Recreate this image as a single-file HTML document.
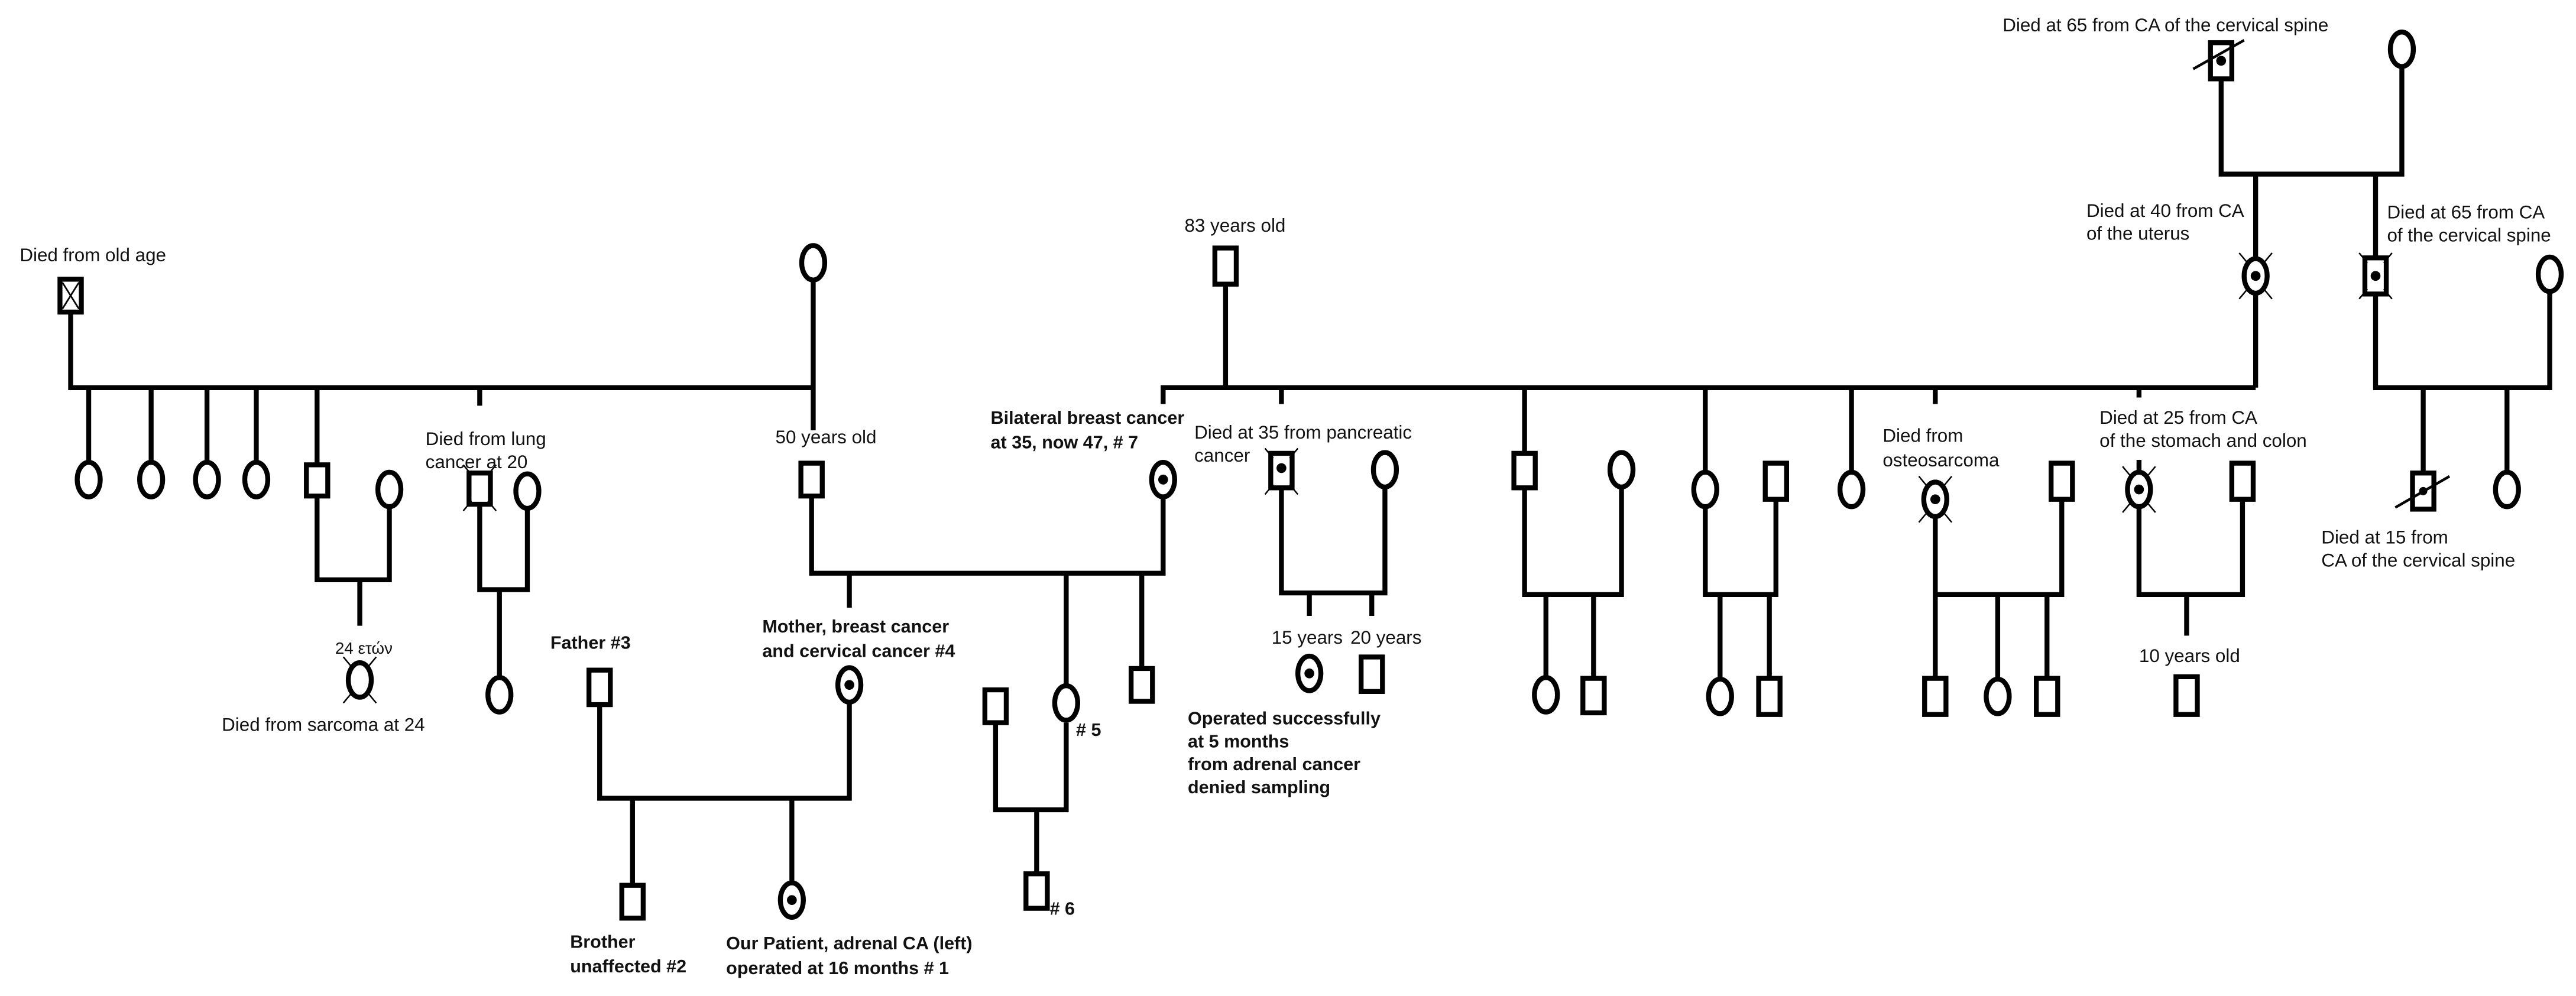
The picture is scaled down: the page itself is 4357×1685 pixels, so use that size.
<!DOCTYPE html>
<html><head><meta charset="utf-8"><style>
html,body{margin:0;padding:0;background:#fff;}
svg{display:block;}
text{font-family:"Liberation Sans",Arial,sans-serif;font-size:11.3px;fill:#111;}
.b{font-weight:bold;font-size:11px;}
</style></head><body>
<svg width="4357" height="1685" viewBox="0 0 1568 606.4" xmlns="http://www.w3.org/2000/svg">
<defs>
<g id="rays" stroke="#000" stroke-width="0.9" fill="none">
<line x1="-10" y1="-14" x2="-5" y2="-8"/><line x1="10" y1="-14" x2="5" y2="-8"/>
<line x1="-10" y1="14" x2="-5" y2="8"/><line x1="10" y1="14" x2="5" y2="8"/>
</g>
</defs>
<g stroke="#000" stroke-width="3" fill="none">
<!-- left family -->
<path d="M43 190 V236 H495 M495 171 V262"/>
<path d="M54 236 V281 M92 236 V281 M126 236 V281 M156 236 V281 M193 236 V283 M292 236 V247"/>
<path d="M193 302 V353 H237 V308 M219 353 V381"/>
<path d="M292 306 V359 H321 V310 M304 359 V412"/>
<!-- middle -->
<path d="M494 302 V349 H708 V303 M517 349 V370 M649 349 V417 M695 349 V407"/>
<path d="M365 429 V486 H517 V428 M385 486 V539 M482 486 V537"/>
<path d="M606 440 V493 H649 V440 M631 493 V532"/>
<!-- right main -->
<path d="M746 173 V236 M708 246 V236 H1373 M780 236 V246 M928 236 V276 M1038 236 V287 M1127 236 V287 M1178 236 V246 M1302 236 V242"/>
<path d="M780 297 V361 H843 V297 M797 361 V375 M835 361 V375"/>
<path d="M928 297 V362 H987 V297 M941 362 V413 M970 362 V413"/>
<path d="M1038 309 V362 H1081 V304 M1047 362 V413 M1077 362 V413"/>
<path d="M1178 315 V362 H1255 V304 M1178 362 V413 M1216 362 V413 M1246 362 V413"/>
<path d="M1302 309 V362 H1365 V304 M1331 362 V387 M1302 280 V287"/>
<!-- top right -->
<path d="M1352 48 V106 H1462 V41 M1373 106 V157.5 M1373 178.5 V236 M1446 106 V157 M1446 179 V236 H1552 V178 M1475 236 V288 M1526 236 V287"/>
</g>
<!-- symbols -->
<g stroke="#000" stroke-width="3" fill="#fff">
<!-- left -->
<rect x="36.5" y="170" width="13" height="20"/>
<ellipse cx="495" cy="160" rx="7" ry="10.5"/>
<ellipse cx="54" cy="292" rx="7" ry="10.5"/><ellipse cx="92" cy="292" rx="7" ry="10.5"/>
<ellipse cx="126" cy="292" rx="7" ry="10.5"/><ellipse cx="156" cy="292" rx="7" ry="10.5"/>
<rect x="186.5" y="283" width="13" height="19"/>
<ellipse cx="237" cy="298" rx="7" ry="10.5"/>
<ellipse cx="219" cy="414" rx="7" ry="10.5"/>
<rect x="285.5" y="288" width="13" height="19"/>
<ellipse cx="321" cy="299" rx="7" ry="10.5"/>
<ellipse cx="304" cy="423" rx="7" ry="10.5"/>
<!-- middle -->
<rect x="487.5" y="282" width="13" height="20"/>
<ellipse cx="708" cy="292" rx="7" ry="10.5"/>
<ellipse cx="517" cy="417" rx="7" ry="10.5"/>
<rect x="358.5" y="408" width="13" height="21"/>
<rect x="378.5" y="539" width="13" height="20"/>
<ellipse cx="482" cy="548" rx="7" ry="10.5"/>
<ellipse cx="649" cy="428" rx="7" ry="10.5"/>
<rect x="599.5" y="420" width="13" height="20"/>
<rect x="624.5" y="532" width="13" height="21"/>
<rect x="688.5" y="407" width="13" height="20"/>
<!-- right -->
<rect x="739.5" y="151" width="13" height="22"/>
<rect x="773.5" y="276" width="13" height="21"/>
<ellipse cx="843" cy="286" rx="7" ry="10.5"/>
<ellipse cx="797" cy="410" rx="7" ry="10.5"/>
<rect x="828.5" y="400" width="13" height="21"/>
<rect x="921.5" y="276" width="13" height="21"/>
<ellipse cx="987" cy="286" rx="7" ry="10.5"/>
<ellipse cx="941" cy="423" rx="7" ry="10.5"/>
<rect x="963.5" y="413" width="13" height="21"/>
<ellipse cx="1038" cy="298" rx="7" ry="10.5"/>
<rect x="1074.5" y="282" width="13" height="22"/>
<ellipse cx="1047" cy="424" rx="7" ry="10.5"/>
<rect x="1070.5" y="413" width="13" height="22"/>
<ellipse cx="1127" cy="298" rx="7" ry="10.5"/>
<ellipse cx="1178" cy="304" rx="7" ry="10.5"/>
<rect x="1248.5" y="282" width="13" height="22"/>
<rect x="1171.5" y="413" width="13" height="22"/>
<ellipse cx="1216" cy="424" rx="7" ry="10.5"/>
<rect x="1239.5" y="413" width="13" height="22"/>
<ellipse cx="1302" cy="298" rx="7" ry="10.5"/>
<rect x="1358.5" y="282" width="13" height="22"/>
<rect x="1324.5" y="412" width="13" height="23"/>
<rect x="1345.5" y="26" width="13" height="22"/>
<ellipse cx="1462" cy="30" rx="7" ry="10.5"/>
<ellipse cx="1373" cy="168" rx="7" ry="10.5"/>
<rect x="1439.5" y="157" width="13" height="22"/>
<ellipse cx="1552" cy="167" rx="7" ry="10.5"/>
<rect x="1468.5" y="288" width="13" height="22"/>
<ellipse cx="1526" cy="298" rx="7" ry="10.5"/>
</g>
<!-- X in old age square -->
<path d="M38 172 L48 188 M48 172 L38 188" stroke="#000" stroke-width="1" fill="none"/>
<!-- dots -->
<g fill="#000">
<circle cx="708" cy="292" r="3"/><circle cx="517" cy="417" r="3"/><circle cx="482" cy="548" r="3"/>
<circle cx="780" cy="285" r="3"/><circle cx="797" cy="410" r="3"/>
<circle cx="1178" cy="304" r="3"/><circle cx="1302" cy="298" r="3"/>
<circle cx="1352" cy="37" r="3"/><circle cx="1373" cy="168" r="3"/><circle cx="1446" cy="168" r="3"/>
<circle cx="1475" cy="299" r="2.5"/>
</g>
<!-- death marks -->
<use href="#rays" x="219" y="414"/>
<use href="#rays" x="292" y="297"/>
<use href="#rays" x="780" y="287"/>
<use href="#rays" x="1178" y="304"/>
<use href="#rays" x="1302" y="298"/>
<use href="#rays" x="1373" y="168"/>
<use href="#rays" x="1446" y="168"/>
<g stroke="#000" stroke-width="1.6">
<line x1="1335" y1="42" x2="1366" y2="24.5"/>
<line x1="1458" y1="309" x2="1491" y2="290"/>
</g>
<!-- texts -->
<text x="12" y="159">Died from old age</text>
<text x="259" y="271">Died from lung</text>
<text x="259" y="285">cancer at 20</text>
<text x="204" y="398" style="font-size:10px">24 ετών</text>
<text x="135" y="445">Died from sarcoma at 24</text>
<text x="472" y="270">50 years old</text>
<text class="b" x="603" y="258">Bilateral breast cancer</text>
<text class="b" x="603" y="273">at 35, now 47, # 7</text>
<text class="b" x="464" y="385">Mother, breast cancer</text>
<text class="b" x="464" y="400">and cervical cancer #4</text>
<text class="b" x="335" y="395">Father  #3</text>
<text class="b" x="655" y="448"># 5</text>
<text class="b" x="639" y="557"># 6</text>
<text class="b" x="347" y="577">Brother</text>
<text class="b" x="347" y="592">unaffected  #2</text>
<text class="b" x="442" y="578">Our Patient,  adrenal CA  (left)</text>
<text class="b" x="442" y="593">operated at 16 months # 1</text>
<text x="721" y="141">83 years old</text>
<text x="727" y="267">Died at 35 from pancreatic</text>
<text x="727" y="281">cancer</text>
<text x="774" y="392">15 years</text>
<text x="822" y="392">20 years</text>
<text class="b" x="723" y="441">Operated successfully</text>
<text class="b" x="723" y="455">at 5 months</text>
<text class="b" x="723" y="469">from adrenal cancer</text>
<text class="b" x="723" y="483">denied sampling</text>
<text x="1146" y="269">Died  from</text>
<text x="1146" y="284">osteosarcoma</text>
<text x="1278" y="258">Died at 25 from CA</text>
<text x="1278" y="272">of the stomach and colon</text>
<text x="1302" y="403">10 years old</text>
<text x="1219" y="19">Died at 65 from CA of the cervical spine</text>
<text x="1270" y="132">Died at 40 from CA</text>
<text x="1270" y="146">of the uterus</text>
<text x="1453" y="133">Died at 65 from CA</text>
<text x="1453" y="147">of the cervical spine</text>
<text x="1413" y="331">Died at 15 from</text>
<text x="1413" y="345">CA of the cervical spine</text>
</svg>
</body></html>
